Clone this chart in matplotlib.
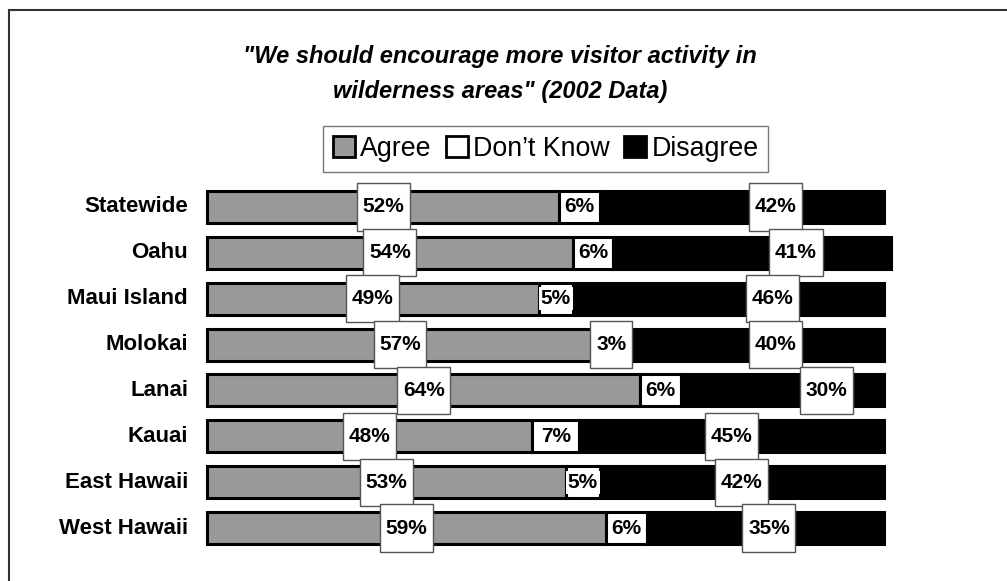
import numpy as np
import matplotlib.pyplot as plt
from matplotlib.patches import Patch, Rectangle
from matplotlib.path import Path

plt.rcParams['font.family'] = ['Liberation Sans', 'DejaVu Sans']

regions = ['Statewide', 'Oahu', 'Maui Island', 'Molokai', 'Lanai',
           'Kauai', 'East Hawaii', 'West Hawaii']
agree = [52, 54, 49, 57, 64, 48, 53, 59]
dont_know = [6, 6, 5, 3, 6, 7, 5, 6]
disagree = [42, 41, 46, 40, 30, 45, 42, 35]
# hand-placed label nudges (percentage points) for the disagree labels
disagree_nudge = [5.0, 6.5, 6.5, 4.0, 6.5, 0.0, 0.0, 0.5]

GRAY = '#999999'


def label_box(x0, y0, width, height, mutation_size):
    # tall square box around a value label
    px = 0.27 * mutation_size
    py = 0.68 * mutation_size
    x0, y0 = x0 - px, y0 - py
    x1, y1 = x0 + width + 2 * px, y0 + height + 2 * py
    return Path([(x0, y0), (x1, y0), (x1, y1), (x0, y1), (x0, y0)], closed=True)


fig = plt.figure(figsize=(10.07, 5.81), dpi=100)
W, H = 1007, 581

# outer frame
fig.patches.append(Rectangle((9 / W, -0.1), 1.2, 1 - 10 / H + 0.1,
                             transform=fig.transFigure, fill=False,
                             edgecolor='#333333', linewidth=1.5))

ax = fig.add_axes([207 / W, 1 - 551 / H, 677 / W, 367 / H])
y = np.arange(len(regions))
a = np.array(agree)
d = np.array(dont_know)
s = np.array(disagree)

bh = 0.7
kw = dict(height=bh, edgecolor='black', linewidth=2.2, zorder=2, clip_on=False)
ax.barh(y, a, color=GRAY, **kw)
ax.barh(y, d, left=a, color='white', **kw)
ax.barh(y, s, left=a + d, color='black', **kw)

ax.set_xlim(0, 100)
ax.set_ylim(len(regions) - 0.5, -0.5)
ax.axis('off')

fs = 15
for i in range(len(regions)):
    ax.text(-2.8, i, regions[i], ha='right', va='center', fontsize=16,
            fontweight='bold', clip_on=False)
    z = 5 + i
    boxed = dict(boxstyle=label_box, facecolor='white', edgecolor='#555555', linewidth=1)
    ax.text(a[i] / 2, i, f'{agree[i]}%', ha='center', va='center', fontsize=fs,
            fontweight='bold', bbox=boxed, zorder=z)
    if dont_know[i] < 4:
        ax.text(a[i] + d[i] / 2 + 1.2, i, f'{dont_know[i]}%', ha='center', va='center',
                fontsize=fs, fontweight='bold', bbox=boxed, zorder=z)
    else:
        ax.text(a[i] + d[i] / 2, i, f'{dont_know[i]}%', ha='center', va='center',
                fontsize=fs, fontweight='bold', zorder=z,
                bbox=dict(boxstyle='square,pad=0.1', facecolor='white', edgecolor='none'))
    ax.text(a[i] + d[i] + s[i] / 2 + disagree_nudge[i], i, f'{disagree[i]}%',
            ha='center', va='center', fontsize=fs, fontweight='bold', bbox=boxed, zorder=z)

fig.text(500 / W, 1 - 74 / H,
         '"We should encourage more visitor activity in\nwilderness areas" (2002 Data)',
         ha='center', va='center', fontsize=17, fontweight='bold', style='italic',
         linespacing=1.65)

handles = [Patch(facecolor=GRAY, edgecolor='black', linewidth=2, label='Agree'),
           Patch(facecolor='white', edgecolor='black', linewidth=2, label='Don\u2019t Know'),
           Patch(facecolor='black', edgecolor='black', linewidth=2, label='Disagree')]
leg = fig.legend(handles=handles, loc='center', bbox_to_anchor=(545.5 / W, 1 - 149 / H),
                 ncol=3, fontsize=19.3, frameon=True, fancybox=False, handlelength=0.83,
                 handleheight=0.83, handletextpad=0.19, columnspacing=0.53,
                 borderpad=0.36, borderaxespad=0)
leg.get_frame().set_edgecolor('#555555')
leg.get_frame().set_linewidth(1)

fig.savefig('out.png', dpi=100)
